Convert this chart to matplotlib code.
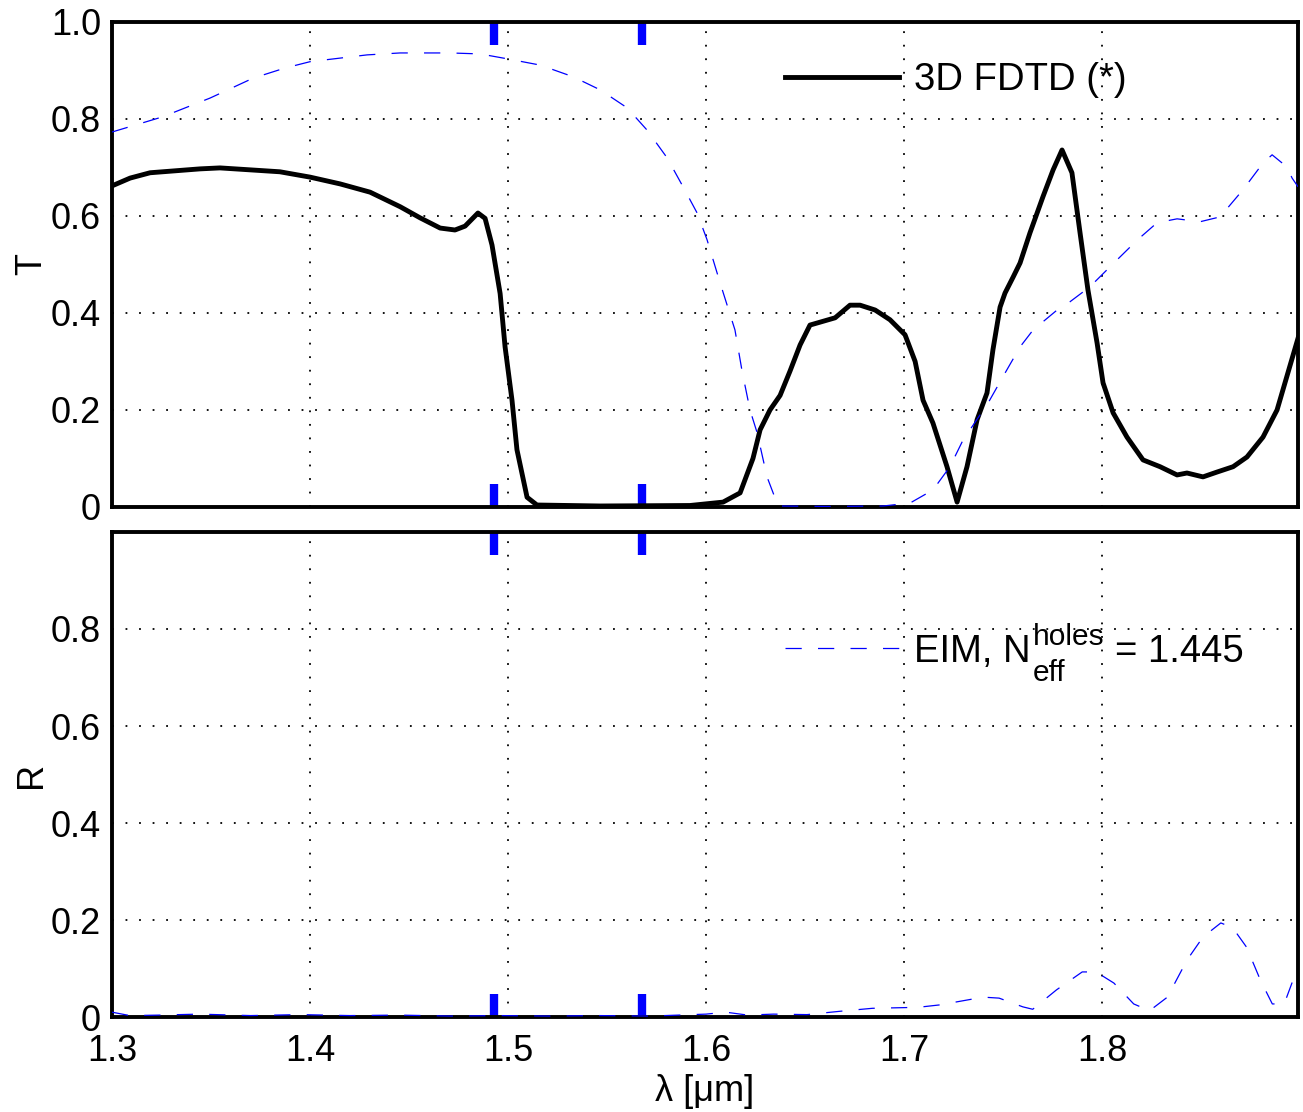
import matplotlib
matplotlib.use("Agg")
import matplotlib.pyplot as plt

plt.rcParams["font.family"] = ["Liberation Sans", "DejaVu Sans"]

# 3D FDTD transmission
lam_fdtd = [1.300, 1.3091, 1.3192, 1.3318, 1.3444, 1.3545, 1.3697, 1.3848, 1.4000, 1.4152,
            1.4303, 1.4455, 1.4556, 1.4657, 1.4732, 1.4783, 1.4848, 1.4884, 1.4919, 1.4960,
            1.4985, 1.5020, 1.5045, 1.5096, 1.5146, 1.5465, 1.5919, 1.6086, 1.6172, 1.6237,
            1.6273, 1.6323, 1.6374, 1.6424, 1.6475, 1.6525, 1.6576, 1.6652, 1.6727, 1.6778,
            1.6854, 1.6929, 1.7005, 1.7056, 1.7096, 1.7146, 1.7217, 1.7268, 1.7318, 1.7369,
            1.7419, 1.7449, 1.7485, 1.7510, 1.7551, 1.7586, 1.7636, 1.7702, 1.7753, 1.7798,
            1.7848, 1.7889, 1.7929, 1.7975, 1.8005, 1.8056, 1.8126, 1.8207, 1.8293, 1.8379,
            1.8429, 1.8510, 1.8581, 1.8662, 1.8732, 1.8813, 1.8884, 1.8990]
T_fdtd = [0.662, 0.678, 0.689, 0.693, 0.697, 0.699, 0.695, 0.691, 0.680, 0.666,
          0.649, 0.619, 0.596, 0.575, 0.571, 0.579, 0.606, 0.595, 0.540, 0.440,
          0.330, 0.220, 0.118, 0.020, 0.004, 0.002, 0.003, 0.010, 0.029, 0.100,
          0.159, 0.200, 0.230, 0.280, 0.334, 0.375, 0.381, 0.390, 0.416, 0.416,
          0.406, 0.386, 0.355, 0.300, 0.220, 0.173, 0.083, 0.010, 0.083, 0.180,
          0.235, 0.324, 0.412, 0.441, 0.474, 0.503, 0.565, 0.640, 0.695, 0.736,
          0.689, 0.565, 0.447, 0.338, 0.256, 0.194, 0.144, 0.097, 0.083, 0.066,
          0.070, 0.062, 0.072, 0.083, 0.103, 0.144, 0.200, 0.348]

# EIM transmission
lam_eim = [1.300, 1.3253, 1.3495, 1.3712, 1.3874, 1.4000, 1.4288, 1.4455, 1.4707, 1.4859,
           1.4995, 1.5162, 1.5328, 1.5465, 1.5601, 1.5702, 1.5803, 1.5884, 1.5955, 1.6005,
           1.6071, 1.6146, 1.6182, 1.6222, 1.6258, 1.6308, 1.6364, 1.6626, 1.6894, 1.7030,
           1.7146, 1.7232, 1.7298, 1.7424, 1.7510, 1.7586, 1.7652, 1.7773, 1.7838, 1.7939,
           1.8040, 1.8177, 1.8278, 1.8379, 1.8495, 1.8596, 1.8712, 1.8813, 1.8859, 1.8934,
           1.8960, 1.8990]
T_eim = [0.773, 0.804, 0.843, 0.884, 0.905, 0.918, 0.932, 0.936, 0.936, 0.934,
         0.924, 0.911, 0.887, 0.860, 0.823, 0.777, 0.720, 0.660, 0.606, 0.551,
         0.462, 0.365, 0.280, 0.200, 0.153, 0.062, 0.002, 0.001, 0.002, 0.008,
         0.035, 0.083, 0.138, 0.214, 0.276, 0.330, 0.365, 0.406, 0.423, 0.454,
         0.495, 0.550, 0.586, 0.594, 0.588, 0.598, 0.654, 0.709, 0.726, 0.701,
         0.678, 0.660]

# EIM reflection
lam_r = [1.300, 1.309, 1.324, 1.344, 1.370, 1.395, 1.420, 1.445, 1.471, 1.496,
         1.521, 1.546, 1.572, 1.600, 1.610, 1.621, 1.634, 1.651, 1.668, 1.684,
         1.707, 1.718, 1.740, 1.748, 1.760, 1.765, 1.777, 1.790, 1.797, 1.806,
         1.816, 1.824, 1.833, 1.843, 1.851, 1.860, 1.866, 1.873, 1.880, 1.886,
         1.892, 1.897]
R_eim = [0.010, 0.003, 0.004, 0.006, 0.003, 0.005, 0.003, 0.004, 0.002, 0.003,
         0.002, 0.003, 0.002, 0.006, 0.010, 0.004, 0.006, 0.005, 0.012, 0.018,
         0.020, 0.025, 0.041, 0.039, 0.021, 0.016, 0.056, 0.093, 0.093, 0.070,
         0.027, 0.013, 0.041, 0.118, 0.165, 0.194, 0.184, 0.144, 0.076, 0.027,
         0.027, 0.082]

# band edge markers
mark_lams = [1.4929, 1.5677]
mark_len = 0.048

x_ticks = [1.3, 1.4, 1.5, 1.6, 1.7, 1.8]
t_ticks = [0, 0.2, 0.4, 0.6, 0.8, 1.0]
t_labels = ["0", "0.2", "0.4", "0.6", "0.8", "1.0"]
r_ticks = [0, 0.2, 0.4, 0.6, 0.8]
r_labels = ["0", "0.2", "0.4", "0.6", "0.8"]

FS = 26
FS_LEG = 27.5
FS_SCRIPT = 21.5
BLUE = "#0000ff"

fig = plt.figure(figsize=(13.03, 11.12), dpi=100)
ax_t = fig.add_axes([0.0860, 0.5441, 0.9102, 0.4362])
ax_r = fig.add_axes([0.0860, 0.0854, 0.9102, 0.4362])


def style_axis(ax, yticks, ylabels, ylabel):
    ax.set_xlim(1.3, 1.899)
    ax.set_ylim(0, 1)
    ax.set_xticks(x_ticks)
    ax.set_yticks(yticks)
    ax.set_yticklabels(ylabels)
    ax.set_axisbelow(True)
    ax.grid(True, color="black", linestyle=(0, (1, 6.5)), linewidth=1.3)
    ax.tick_params(length=0, labelsize=FS, pad=8)
    ax.tick_params(axis="x", pad=12)
    for s in ax.spines.values():
        s.set_linewidth(2.8)
        s.set_zorder(5)
    ax.set_ylabel(ylabel, fontsize=FS, labelpad=1)
    for lam in mark_lams:
        ax.vlines(lam, 0, mark_len, color=BLUE, linewidth=6, zorder=3)
        ax.vlines(lam, 1 - mark_len, 1, color=BLUE, linewidth=6, zorder=3)


style_axis(ax_t, t_ticks, t_labels, "T")
style_axis(ax_r, r_ticks, r_labels, "R")
ax_t.tick_params(axis="x", labelbottom=False)

line_fdtd, = ax_t.plot(lam_fdtd, T_fdtd, color="black", linewidth=3.5,
                       solid_joinstyle="round", zorder=6)
ax_t.plot(lam_eim, T_eim, color=BLUE, linewidth=0.9, dashes=(13, 13), zorder=6)
line_r, = ax_r.plot(lam_r, R_eim, color=BLUE, linewidth=0.9, dashes=(13, 13), zorder=6)

ax_t.legend([line_fdtd], ["3D FDTD (*)"], loc="center left",
            bbox_to_anchor=(0.567, 0.880), frameon=False, fontsize=FS_LEG,
            handlelength=3.0, handletextpad=0.4, borderpad=0, borderaxespad=0)
leg_r = ax_r.legend([line_r], ["EIM, N"], loc="center left",
                    bbox_to_anchor=(0.567, 0.753), frameon=False, fontsize=FS_LEG,
                    handlelength=3.0, handletextpad=0.4, borderpad=0,
                    borderaxespad=0)

# super/subscript pieces of the legend label, placed after the "N"
n_text = leg_r.get_texts()[0]
sup = ax_r.annotate("holes", xy=(1, 0), xycoords=n_text, xytext=(1, 18),
                    textcoords="offset points", fontsize=FS_SCRIPT,
                    ha="left", va="baseline")
ax_r.annotate("eff", xy=(1, 0), xycoords=n_text, xytext=(1, -8),
              textcoords="offset points", fontsize=FS_SCRIPT,
              ha="left", va="baseline")
ax_r.annotate("= 1.445", xy=(1, 0), xycoords=(sup, n_text), xytext=(8, 0),
              textcoords="offset points", fontsize=FS_LEG,
              ha="left", va="bottom")

ax_r.set_xlabel("λ [μm]", fontsize=FS, labelpad=4)

# first draw lays out the legend so the annotations can find its text
fig.canvas.draw()
fig.savefig("out.png", dpi=100)
